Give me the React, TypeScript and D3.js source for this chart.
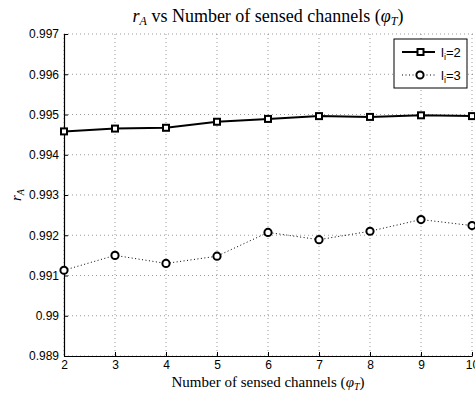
import React, { useEffect, useRef } from 'react'
import * as d3 from 'd3'

const channels = [2, 3, 4, 5, 6, 7, 8, 9, 10]
const rA_li2 = [0.99458, 0.99465, 0.99467, 0.99482, 0.99489, 0.99496, 0.99494, 0.99498, 0.99496]
const rA_li3 = [0.99113, 0.9915, 0.9913, 0.99148, 0.99207, 0.99189, 0.9921, 0.99239, 0.99224]
const yTicks = [0.989, 0.99, 0.991, 0.992, 0.993, 0.994, 0.995, 0.996, 0.997]
const yTickLabels = ['0.989', '0.99', '0.991', '0.992', '0.993', '0.994', '0.995', '0.996', '0.997']

const App = () => {
  const ref = useRef<SVGSVGElement>(null)

  useEffect(() => {
    const svg = d3.select(ref.current)
    svg.selectAll('*').remove()

    const width = 475
    const height = 393
    const left = 64
    const right = 472
    const top = 34
    const bottom = 356

    const x = d3.scaleLinear().domain([2, 10]).range([left, right])
    const y = d3.scaleLinear().domain([0.989, 0.997]).range([bottom, top])

    svg.attr('width', width).attr('height', height)
    svg.append('rect').attr('width', width).attr('height', height).attr('fill', 'white')

    // grid
    const grid = svg.append('g').attr('stroke', '#555').attr('stroke-width', 0.6).attr('stroke-dasharray', '1,3')
    channels.forEach((c) => {
      grid.append('line').attr('x1', x(c)).attr('x2', x(c)).attr('y1', top).attr('y2', bottom)
    })
    yTicks.forEach((t) => {
      grid.append('line').attr('x1', left).attr('x2', width).attr('y1', y(t)).attr('y2', y(t))
    })

    // axes
    const xAxis = svg
      .append('g')
      .attr('transform', `translate(0,${bottom})`)
      .call(d3.axisBottom(x).tickValues(channels).tickSizeInner(-4).tickSizeOuter(0).tickPadding(4))
    const yAxis = svg
      .append('g')
      .attr('transform', `translate(${left},0)`)
      .call(
        d3
          .axisLeft(y)
          .tickValues(yTicks)
          .tickFormat((_, i) => yTickLabels[i])
          .tickSizeInner(-4)
          .tickSizeOuter(0)
          .tickPadding(5)
      )
    ;[xAxis, yAxis].forEach((a) => {
      a.select('.domain').attr('stroke', 'black').attr('stroke-width', 1.2)
      a.selectAll('.tick line').attr('stroke', 'black')
      a.selectAll('text').attr('font-family', 'Liberation Sans, Arial, sans-serif').attr('font-size', 12).attr('fill', 'black')
    })

    // lines
    const line = d3
      .line<number>()
      .x((_, i) => x(channels[i]))
      .y((d) => y(d))

    svg.append('path').datum(rA_li2).attr('d', line).attr('fill', 'none').attr('stroke', 'black').attr('stroke-width', 2)
    svg
      .append('path')
      .datum(rA_li3)
      .attr('d', line)
      .attr('fill', 'none')
      .attr('stroke', 'black')
      .attr('stroke-width', 1)
      .attr('stroke-dasharray', '1,2.5')

    svg
      .selectAll('rect.sq')
      .data(rA_li2)
      .enter()
      .append('rect')
      .attr('class', 'sq')
      .attr('x', (_, i) => x(channels[i]) - 3)
      .attr('y', (d) => y(d) - 3)
      .attr('width', 6)
      .attr('height', 6)
      .attr('fill', 'white')
      .attr('stroke', 'black')
      .attr('stroke-width', 2)

    svg
      .selectAll('circle.pt')
      .data(rA_li3)
      .enter()
      .append('circle')
      .attr('class', 'pt')
      .attr('cx', (_, i) => x(channels[i]))
      .attr('cy', (d) => y(d))
      .attr('r', 3.6)
      .attr('fill', 'white')
      .attr('stroke', 'black')
      .attr('stroke-width', 2)

    // legend
    const lg = svg.append('g')
    lg.append('rect').attr('x', 394).attr('y', 39).attr('width', 73).attr('height', 49).attr('fill', 'white').attr('stroke', 'black').attr('stroke-width', 1)
    const rows = [
      { label: '2', solid: true, cy: 52 },
      { label: '3', solid: false, cy: 75 },
    ]
    rows.forEach((r) => {
      lg.append('line')
        .attr('x1', 402)
        .attr('x2', 435)
        .attr('y1', r.cy)
        .attr('y2', r.cy)
        .attr('stroke', 'black')
        .attr('stroke-width', r.solid ? 2 : 1)
        .attr('stroke-dasharray', r.solid ? null : '1,2.5')
      if (r.solid) {
        lg.append('rect').attr('x', 417.5).attr('y', r.cy - 3).attr('width', 6).attr('height', 6).attr('fill', 'white').attr('stroke', 'black').attr('stroke-width', 2)
      } else {
        lg.append('circle').attr('cx', 420).attr('cy', r.cy).attr('r', 3.6).attr('fill', 'white').attr('stroke', 'black').attr('stroke-width', 2)
      }
      const t = lg
        .append('text')
        .attr('x', 441)
        .attr('y', r.cy + 4.5)
        .attr('font-family', 'Liberation Sans, Arial, sans-serif')
        .attr('font-size', 13)
      t.append('tspan').text('l')
      t.append('tspan').attr('font-size', 9).attr('dy', 3).text('i')
      t.append('tspan').attr('dy', -3).text('=' + r.label)
    })

    // title
    const serif = 'Liberation Serif, Times New Roman, serif'
    const title = svg
      .append('text')
      .attr('x', 268)
      .attr('y', 22)
      .attr('text-anchor', 'middle')
      .attr('font-family', serif)
      .attr('font-size', 18)
    title.append('tspan').attr('font-style', 'italic').text('r')
    title.append('tspan').attr('font-style', 'italic').attr('font-size', 12).attr('dy', 3).text('A')
    title.append('tspan').attr('dy', -3).text(' vs Number of sensed channels (')
    title.append('tspan').attr('font-style', 'italic').text('φ')
    title.append('tspan').attr('font-style', 'italic').attr('font-size', 12).attr('dy', 3).text('T')
    title.append('tspan').attr('dy', -3).text(')')

    const xl = svg
      .append('text')
      .attr('x', 268)
      .attr('y', 387)
      .attr('text-anchor', 'middle')
      .attr('font-family', serif)
      .attr('font-size', 15)
    xl.append('tspan').text('Number of sensed channels (')
    xl.append('tspan').attr('font-style', 'italic').text('φ')
    xl.append('tspan').attr('font-style', 'italic').attr('font-size', 10).attr('dy', 3).text('T')
    xl.append('tspan').attr('dy', -3).text(')')

    const yl = svg
      .append('text')
      .attr('transform', `translate(21,${(top + bottom) / 2}) rotate(-90)`)
      .attr('text-anchor', 'middle')
      .attr('font-family', serif)
      .attr('font-size', 15)
    yl.append('tspan').attr('font-style', 'italic').text('r')
    yl.append('tspan').attr('font-style', 'italic').attr('font-size', 10).attr('dy', 3).text('A')
  }, [])

  return (
    <div style={{ position: 'absolute', left: 0, top: 0 }}>
      <svg ref={ref}></svg>
    </div>
  )
}

export default App
